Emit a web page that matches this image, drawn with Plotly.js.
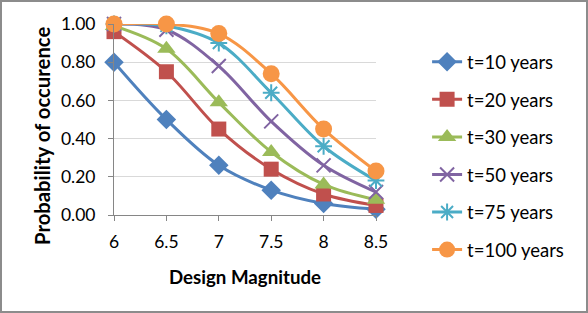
<!DOCTYPE html>
<html>
<head>
<meta charset="utf-8">
<script src="https://cdn.plot.ly/plotly-3.0.1.min.js"></script>
<style>
html,body{margin:0;padding:0;background:#fff;}
#wrap{position:relative;width:588px;height:313px;}
#chart{width:588px;height:313px;}
#frame{position:absolute;left:0;top:0;width:588px;height:313px;box-sizing:border-box;border:2px solid #8c8c8c;pointer-events:none;}
</style>
</head>
<body>
<div id="wrap"><div id="chart"></div><div id="frame"></div></div>
<script>
const magnitudes = [6, 6.5, 7, 7.5, 8, 8.5];
const seriesNames = ["t=10 years", "t=20 years", "t=30 years", "t=50 years", "t=75 years", "t=100 years"];
const t10  = [0.80, 0.50, 0.26, 0.13, 0.06, 0.03];
const t20  = [0.96, 0.75, 0.45, 0.24, 0.11, 0.05];
const t30  = [0.99, 0.87, 0.59, 0.33, 0.16, 0.08];
const t50  = [1.00, 0.97, 0.78, 0.49, 0.26, 0.12];
const t75  = [1.00, 0.99, 0.90, 0.64, 0.36, 0.18];
const t100 = [1.00, 1.00, 0.95, 0.74, 0.45, 0.23];
const yTickVals = [0, 0.2, 0.4, 0.6, 0.8, 1.0];
const yTickText = ["0.00", "0.20", "0.40", "0.60", "0.80", "1.00"];
const xTickVals = [6, 6.5, 7, 7.5, 8, 8.5];
const xTickText = ["6", "6.5", "7", "7.5", "8", "8.5"];
const xTitle = "Design Magnitude";
const yTitle = "Probability of occurence";

const values = [t10, t20, t30, t50, t75, t100];
const colors = ["#4F81BD", "#C0504D", "#9BBB59", "#8064A2", "#4BACC6", "#F79646"];
const symbols = ["diamond", "square", "triangle-up", "x-thin-open", "asterisk-open", "circle"];
const sizes = [15, 15, 16, 14, 14, 17];

const FONT = "Lato, 'Open Sans', sans-serif";

const traces = values.map((v, i) => ({
  x: magnitudes,
  y: v,
  name: seriesNames[i],
  legendgroup: "g" + i,
  type: "scatter",
  mode: "lines+markers",
  line: {color: colors[i], width: 3, shape: "spline", smoothing: 1},
  marker: {
    symbol: symbols[i],
    size: sizes[i],
    color: colors[i],
    line: {color: colors[i], width: (i === 3 || i === 4) ? 2 : 0}
  },
  cliponaxis: false
}));

const layout = {
  width: 588,
  height: 313,
  margin: {l: 114, r: 212, t: 24, b: 98},
  paper_bgcolor: "#ffffff",
  plot_bgcolor: "#ffffff",
  font: {family: FONT, color: "#000000", size: 17},
  showlegend: true,
  legend: {
    x: 1.195, xanchor: "left",
    y: 0.31, yanchor: "middle",
    font: {family: FONT, size: 18.5, color: "#000"},
    tracegroupgap: 10.5,
    maxheight: 300,
    bgcolor: "rgba(0,0,0,0)"
  },
  xaxis: {
    range: [6, 8.5],
    tickvals: xTickVals,
    ticktext: xTickText,
    showgrid: false,
    zeroline: false,
    showline: true,
    linecolor: "#868686",
    linewidth: 1,
    ticks: "outside",
    ticklen: 5,
    tickcolor: "#868686",
    ticklabelstandoff: 6,
    tickfont: {family: FONT, size: 17.5},
    title: {text: "<b>" + xTitle + "</b>", font: {family: FONT, size: 18.7}, standoff: 19}
  },
  yaxis: {
    range: [0, 1.0],
    tickvals: yTickVals,
    ticktext: yTickText,
    showgrid: true,
    gridcolor: "#D9D9D9",
    gridwidth: 1,
    zeroline: false,
    showline: true,
    linecolor: "#868686",
    linewidth: 1,
    ticks: "outside",
    ticklen: 5,
    tickcolor: "#868686",
    ticklabelstandoff: 9,
    tickfont: {family: FONT, size: 17.5}
  },
  annotations: [{
    text: "<b>" + yTitle + "</b>",
    xref: "paper", yref: "paper",
    x: -0.2748, y: 0.4136,
    xanchor: "center", yanchor: "middle",
    textangle: -90,
    showarrow: false,
    font: {family: FONT, size: 20.3, color: "#000"}
  }]
};

Plotly.newPlot("chart", traces, layout, {staticPlot: true, displayModeBar: false});
</script>
</body>
</html>
